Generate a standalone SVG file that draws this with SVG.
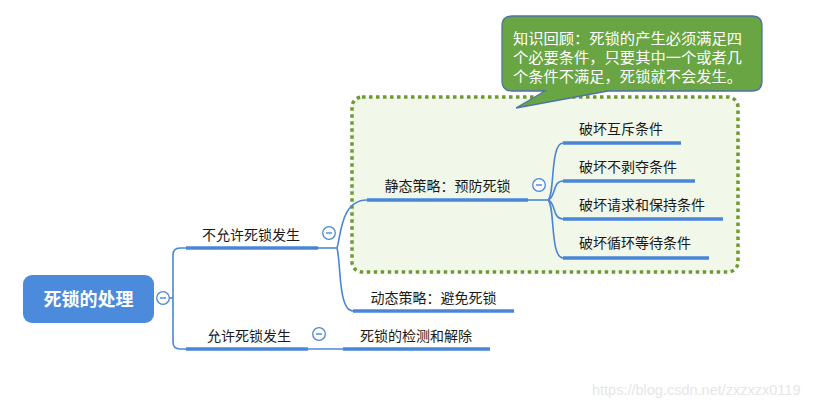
<svg xmlns="http://www.w3.org/2000/svg" width="829" height="407" viewBox="0 0 829 407">
<style>
.lbl{font-family:"Noto Sans CJK SC","Liberation Sans",sans-serif;font-size:14px;fill:#1a1a1a}
.ul{stroke:#4A86D8;stroke-width:3.5;fill:none}
.cn{stroke:#4A86D8;stroke-width:1.6;fill:none}
.tg circle{fill:#fff;stroke:#4A86D8;stroke-width:1.3}
.tg line{stroke:#4A86D8;stroke-width:1.4}
</style>
<defs>
<g id="toggle" class="tg"><circle cx="0" cy="0" r="6.3"/><line x1="-3" y1="0" x2="3" y2="0"/></g>
</defs>
<rect width="829" height="407" fill="#fff"/>

<g id="prevention-frame">
<rect x="352" y="97" width="386" height="175" rx="10" fill="#F1F7E9" stroke="#6F9A33" stroke-width="3.5" stroke-dasharray="3.5 3.5"/>
</g>

<g id="connectors">
<path class="cn" d="M169,298 H173"/>
<path class="cn" d="M186,248 H180 Q173,248 173,255 V342 Q173,349 180,349 H186"/>
<path class="cn" d="M318,248 H337"/>
<path class="cn" d="M337,248 C341,235 341,200 367,200"/>
<path class="cn" d="M337,248 C341,262 338,311 353,311"/>
<path class="cn" d="M308,349 H343"/>
<path class="cn" d="M528,200 H548"/>
<path class="cn" d="M548,200 C555,195 550,143 563,143"/>
<path class="cn" d="M548,200 C556,198 552,181 563,181"/>
<path class="cn" d="M548,200 C556,202 552,219 563,219"/>
<path class="cn" d="M548,200 C555,205 550,258 563,258"/>
</g>

<g id="root">
<rect x="23" y="275" width="131" height="48" rx="9" fill="#4C8ADB"/>
<text x="88.5" y="305.5" text-anchor="middle" font-family="Noto Sans CJK SC,Liberation Sans,sans-serif" font-size="18" font-weight="bold" fill="#fff">死锁的处理</text>
<use href="#toggle" x="163" y="298"/>
</g>

<g id="n-forbid">
<line class="ul" x1="186" y1="248" x2="318" y2="248"/>
<text class="lbl" x="251" y="240" text-anchor="middle">不允许死锁发生</text>
<use href="#toggle" x="329" y="233"/>
</g>

<g id="n-allow">
<line class="ul" x1="186" y1="349" x2="308" y2="349"/>
<text class="lbl" x="249" y="341" text-anchor="middle">允许死锁发生</text>
<use href="#toggle" x="319" y="334"/>
</g>

<g id="n-static">
<line class="ul" x1="367" y1="200" x2="528" y2="200"/>
<text class="lbl" x="447.5" y="191" text-anchor="middle">静态策略：预防死锁</text>
<use href="#toggle" x="539" y="185"/>
</g>

<g id="n-dynamic">
<line class="ul" x1="353" y1="311" x2="514" y2="311"/>
<text class="lbl" x="433.5" y="303" text-anchor="middle">动态策略：避免死锁</text>
</g>

<g id="n-detect">
<line class="ul" x1="343" y1="349" x2="490" y2="349"/>
<text class="lbl" x="416" y="341" text-anchor="middle">死锁的检测和解除</text>
</g>

<g id="n-c1">
<line class="ul" x1="563" y1="143" x2="681" y2="143"/>
<text class="lbl" x="579" y="134">破坏互斥条件</text>
</g>
<g id="n-c2">
<line class="ul" x1="563" y1="181" x2="695" y2="181"/>
<text class="lbl" x="579" y="172">破坏不剥夺条件</text>
</g>
<g id="n-c3">
<line class="ul" x1="563" y1="219" x2="723" y2="219"/>
<text class="lbl" x="579" y="210">破坏请求和保持条件</text>
</g>
<g id="n-c4">
<line class="ul" x1="563" y1="258" x2="709" y2="258"/>
<text class="lbl" x="579" y="248">破坏循环等待条件</text>
</g>

<g id="callout">
<path d="M512,16 H752 Q762,16 762,26 V81 Q762,91 752,91 H608 L516,108 L545,91 H512 Q502,91 502,81 V26 Q502,16 512,16 Z" fill="#6AA544" stroke="#4E72A8" stroke-width="1.3"/>
<g font-family="Noto Sans CJK SC,Liberation Serif,serif" font-size="15" fill="#fff">
<text x="513" y="44" textLength="229" lengthAdjust="spacingAndGlyphs">知识回顾：死锁的产生必须满足四</text>
<text x="513" y="63" textLength="229" lengthAdjust="spacingAndGlyphs">个必要条件，只要其中一个或者几</text>
<text x="513" y="82" textLength="229" lengthAdjust="spacingAndGlyphs">个条件不满足，死锁就不会发生。</text>
</g>
</g>

<text x="592" y="395" font-family="Liberation Sans,sans-serif" font-size="14.5" fill="#E6E6E6">https://blog.csdn.net/zxzxzx0119</text>
</svg>
